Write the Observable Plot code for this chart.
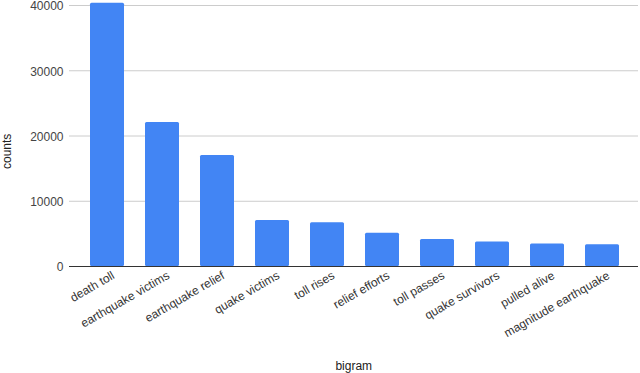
<!DOCTYPE html>
<html>
<head>
<meta charset="utf-8">
<script src="https://cdn.jsdelivr.net/npm/d3@7"></script>
<script src="https://cdn.jsdelivr.net/npm/@observablehq/plot@0.6"></script>
<style>
  html, body { margin: 0; padding: 0; background: #fff; }
  #chart svg { display: block; }
</style>
</head>
<body>
<div id="chart"></div>
<script>
const bigrams = ["death toll", "earthquake victims", "earthquake relief", "quake victims", "toll rises", "relief efforts", "toll passes", "quake survivors", "pulled alive", "magnitude earthquake"];
const counts = [40350, 22050, 17000, 7050, 6700, 5100, 4150, 3750, 3450, 3350];
const yTicks = [0, 10000, 20000, 30000, 40000];

const data = bigrams.map((b, i) => ({bigram: b, counts: counts[i]}));

const chart = Plot.plot({
  width: 640,
  height: 373,
  marginLeft: 79,
  marginRight: 10.5,
  marginTop: 5,
  marginBottom: 107,
  style: {fontFamily: "Arial, 'Liberation Sans', sans-serif", fontSize: "12px", color: "#444", background: "#fff"},
  x: {domain: bigrams, paddingInner: 0.38, paddingOuter: 0.19, label: null},
  y: {domain: [0, 40000], label: null},
  marks: [
    Plot.ruleY(yTicks.filter(d => d > 0), {stroke: "#ccc", strokeOpacity: 1, insetLeft: -10, insetRight: -8.5}),
    Plot.barY(data, {x: "bigram", y: "counts", fill: "#4285F4", rx: 1.5}),
    Plot.ruleY([0], {stroke: "#333", strokeOpacity: 1, insetLeft: -10, insetRight: -8.5}),
    Plot.axisY({ticks: yTicks, tickSize: 0, tickPadding: 16, dy: 1, tickFormat: d => String(d), fill: "#444", label: null}),
    Plot.axisX({tickSize: 0, tickRotate: -30, tickPadding: 8, dx: 6, fill: "#333", label: null}),
    Plot.text(["counts"], {frameAnchor: "left", rotate: -90, dx: -72, dy: 33, fill: "#222", fontSize: 12}),
    Plot.text(["bigram"], {frameAnchor: "bottom", dy: 103, dx: -1, fill: "#222", fontSize: 12})
  ]
});
document.getElementById("chart").appendChild(chart);
</script>
</body>
</html>
